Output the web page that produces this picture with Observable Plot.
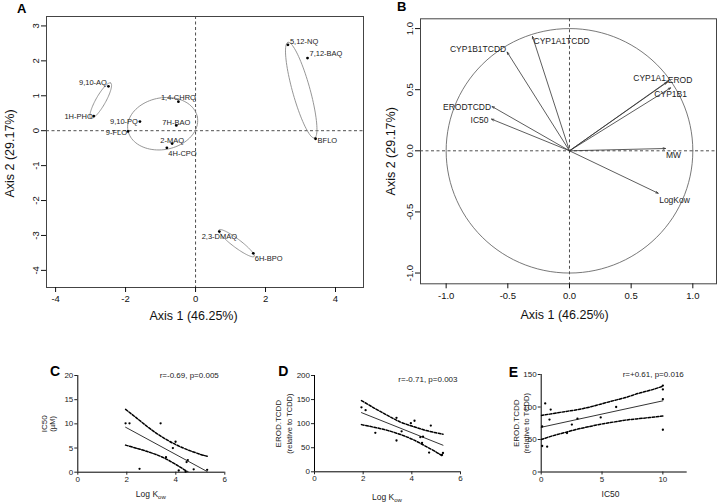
<!DOCTYPE html>
<html><head><meta charset="utf-8">
<script src="https://cdn.jsdelivr.net/npm/d3@7"></script>
<script src="https://cdn.jsdelivr.net/npm/@observablehq/plot@0.6"></script>
<style>
body{margin:0;background:#fff;}
#root{position:relative;width:720px;height:503px;overflow:hidden;background:#fff;font-family:"Liberation Sans",Arial,sans-serif;}
.panel{position:absolute;}
.panel svg{overflow:visible;}
.letter{position:absolute;font-weight:bold;transform:translate(-50%,-50%);line-height:1;color:#000;}
</style></head><body><div id="root"></div>
<script>
// ---------- DATA ----------
// Panel A: PCA scores of compounds
const pcaNames = ["5,12-NQ","7,12-BAQ","BFLO","9,10-AQ","1H-PHO","1,4-CHRQ","9,10-PQ","7H-BAO","9-FLO","2-MAQ","4H-CPO","2,3-DMAQ","6H-BPO"];
const pcaAxis1 = [2.64, 3.20, 3.43, -2.49, -2.91, -0.49, -1.59, -0.55, -1.93, -0.67, -0.82, 0.68, 1.65];
const pcaAxis2 = [2.46, 2.08, -0.23, 1.27, 0.42, 0.83, 0.26, 0.15, -0.02, -0.37, -0.49, -2.89, -3.51];
// group ellipses (centre, semi-axes, angle in degrees)
const ellipseCx = [-2.71, -0.94, 3.02, 1.17];
const ellipseCy = [0.86, 0.20, 1.16, -3.22];
const ellipseRx = [0.58, 1.01, 1.42, 0.63];
const ellipseRy = [0.14, 0.74, 0.25, 0.12];
const ellipseAngle = [60.6, 11, 105.5, -37];
const aTicksX = [-4, -2, 0, 2, 4];
const aTicksY = [-4, -3, -2, -1, 0, 1, 2, 3];

// Panel B: variable loadings (correlation circle)
const varNames = ["CYP1B1TCDD","CYP1A1TCDD","CYP1A1","EROD","CYP1B1","ERODTCDD","IC50","MW","LogKow"];
const varAxis1 = [-0.505, -0.30, 0.79, 0.805, 0.82, -0.627, -0.632, 0.778, 0.719];
const varAxis2 = [0.807, 0.935, 0.56, 0.575, 0.515, 0.362, 0.259, 0.019, -0.347];
const bTicks = [-1.0, -0.5, 0.0, 0.5, 1.0];

// Panel C: IC50 vs Log Kow
const cLogKow = [1.95, 2.11, 2.52, 3.38, 3.60, 3.88, 3.99, 4.12, 4.40, 4.44, 4.49, 4.73, 5.28];
const cIC50 = [10.1, 10.1, 0.7, 10.1, 3.1, 5.0, 6.3, 0.35, 0.1, 2.1, 2.5, 0.6, 0.5];
const cFitX = [1.95, 5.28], cFitY = [9.3, 0.14];
const cBandX = [1.95, 2.5, 3.0, 3.5, 4.0, 4.5, 5.0, 5.28];
const cUpper = [13.0, 10.8, 8.8, 7.1, 5.7, 4.6, 3.7, 3.3];
const cLower = [5.6, 4.8, 4.0, 3.0, 1.6, 0.0, -1.9, -3.0];

// Panel D: EROD.TCDD vs Log Kow
const dLogKow = [1.93, 2.10, 2.50, 3.37, 3.37, 3.58, 3.96, 4.11, 4.35, 4.42, 4.46, 4.71, 4.78, 5.24, 5.28];
const dEROD = [134, 128, 81, 112, 65, 84, 101, 106, 72, 60, 73, 40, 96, 35, 39];
const dFitX = [1.93, 5.28], dFitY = [122.9, 55.2];
const dBandX = [1.93, 2.5, 3.0, 3.5, 4.0, 4.5, 5.0, 5.28];
const dUpper = [148, 131, 117, 104, 95, 87, 81, 78];
const dLower = [98, 92, 86, 78, 68, 55, 41, 32];

// Panel E: EROD.TCDD vs IC50
const eIC50 = [0.08, 0.08, 0.33, 0.49, 0.68, 0.78, 2.12, 2.52, 2.98, 4.89, 6.16, 10, 10, 10, 10];
const eEROD = [70, 40, 105.5, 39, 80.7, 96, 60, 73, 82, 84, 100, 133, 127, 112, 65];
const eFitX = [0, 10], eFitY = [68.8, 109.5];
const eBandX = [0, 1, 2, 3, 4, 5, 6, 7, 8, 9, 10];
const eUpper = [87, 90, 93, 96, 100, 105, 110, 115, 121, 126, 132];
const eLower = [50, 56, 61, 66, 70, 74, 77, 80, 82, 84, 86];

// ---------- HELPERS ----------
const FONT = '"Liberation Sans", Arial, Helvetica, sans-serif';
const root = document.getElementById("root");
function place(el, left, top) {
  const w = document.createElement("div");
  w.className = "panel"; w.style.left = left + "px"; w.style.top = top + "px";
  w.appendChild(el); root.appendChild(w);
}
function letter(txt, cx, cy, size) {
  const d = document.createElement("div");
  d.className = "letter"; d.textContent = txt;
  d.style.left = cx + "px"; d.style.top = cy + "px"; d.style.fontSize = size + "px";
  root.appendChild(d);
}
// outline geometry of an ellipse (shape, not data)
function ellipsePoints(i) {
  const t = ellipseAngle[i] * Math.PI / 180, pts = [];
  for (let k = 0; k <= 90; k++) {
    const u = 2 * Math.PI * k / 90;
    const ex = ellipseRx[i] * Math.cos(u), ey = ellipseRy[i] * Math.sin(u);
    pts.push({g: i, x: ellipseCx[i] + ex * Math.cos(t) - ey * Math.sin(t), y: ellipseCy[i] + ex * Math.sin(t) + ey * Math.cos(t)});
  }
  return pts;
}
const fmt1 = d => d.toFixed(1);

// ---------- PANEL A ----------
const pcaData = pcaNames.map((name, i) => ({name, a1: pcaAxis1[i], a2: pcaAxis2[i]}));
const placeA = {
  "5,12-NQ": ["start", 2, -3.5], "7,12-BAQ": ["start", 2, -4.5], "BFLO": ["start", 2, 2],
  "9,10-AQ": ["end", -1.5, -4], "1H-PHO": ["end", -1, 1], "1,4-CHRQ": ["middle", 0, -4.5],
  "9,10-PQ": ["end", -2, 0], "7H-BAO": ["middle", 0, -3], "9-FLO": ["end", -1, 1],
  "2-MAQ": ["middle", 0, -3], "4H-CPO": ["start", 1.5, 5.5], "2,3-DMAQ": ["middle", 0, 4.5],
  "6H-BPO": ["start", 1.5, 5]
};
const ellPts = ellipseCx.flatMap((_, i) => ellipsePoints(i));
const dash = {stroke: "#222", strokeWidth: 0.8, strokeDasharray: "3,2.5"};
const plotA = Plot.plot({
  width: 366, height: 330, marginLeft: 46, marginRight: 3, marginTop: 16, marginBottom: 43,
  style: {fontFamily: FONT, fontSize: "9.5px", background: "transparent", overflow: "visible", color: "#111"},
  x: {domain: [-4.26, 4.8]},
  y: {domain: [-4.49, 3.27]},
  marks: [
    Plot.ruleX([0], dash),
    Plot.ruleY([0], dash),
    Plot.line(ellPts, {x: "x", y: "y", z: "g", stroke: "#8a8a8a", strokeWidth: 0.9}),
    Plot.dot(pcaData, {x: "a1", y: "a2", r: 1.4, fill: "#000", stroke: null}),
    ...pcaData.map(d => Plot.text([d], {x: "a1", y: "a2", text: "name", textAnchor: placeA[d.name][0], dx: placeA[d.name][1], dy: placeA[d.name][2], fontSize: 7.5, fill: "#222"})),
    Plot.frame({stroke: "#444", strokeWidth: 1}),
    Plot.axisX({ticks: aTicksX, tickFormat: d => String(d), tickSize: 5, tickPadding: 3, label: null}),
    Plot.axisY({ticks: aTicksY, tickFormat: d => String(d), tickSize: 5, tickPadding: 3, tickRotate: -90, label: null}),
    Plot.text(["Axis 1 (46.25%)"], {frameAnchor: "bottom", textAnchor: "middle", dx: -11.5, dy: 28, fontSize: 12.5, lineAnchor: "middle"}),
    Plot.text(["Axis 2 (29.17%)"], {frameAnchor: "left", textAnchor: "middle", rotate: -90, dx: -37, dy: 1.5, fontSize: 12.5, lineAnchor: "middle"})
  ]
});
place(plotA, 0, 0);

// ---------- PANEL B ----------
const varData = varNames.map((name, i) => ({name, a1: varAxis1[i], a2: varAxis2[i]}));
const placeB = {
  "CYP1B1TCDD": ["end", -1, -3], "CYP1A1TCDD": ["start", 1, 5], "CYP1A1": ["end", -1, -4.5],
  "EROD": ["start", -1, 0], "CYP1B1": ["middle", 0, 6.5], "ERODTCDD": ["end", -1, 0.5],
  "IC50": ["end", -3, 1], "MW": ["middle", 8, 7], "LogKow": ["start", 1, 7]
};
const unitCircle = d3.range(0, 361, 3).map(a => ({x: Math.cos(a * Math.PI / 180), y: Math.sin(a * Math.PI / 180)}));
const plotB = Plot.plot({
  width: 354, height: 330, marginLeft: 54, marginRight: 4, marginTop: 18.3, marginBottom: 46.7,
  style: {fontFamily: FONT, fontSize: "9.5px", background: "transparent", overflow: "visible", color: "#111"},
  x: {domain: [-1.208, 1.192]},
  y: {domain: [-1.088, 1.08]},
  marks: [
    Plot.ruleX([0], dash),
    Plot.ruleY([0], dash),
    Plot.line(unitCircle, {x: "x", y: "y", stroke: "#555", strokeWidth: 0.8}),
    Plot.arrow(varData, {x1: d => 0, y1: d => 0, x2: "a1", y2: "a2", stroke: "#333", strokeWidth: 0.8, headLength: 4.5, headAngle: 40}),
    ...varData.map(d => Plot.text([d], {x: "a1", y: "a2", text: "name", textAnchor: placeB[d.name][0], dx: placeB[d.name][1], dy: placeB[d.name][2], fontSize: 8.5, fill: "#222"})),
    Plot.frame({stroke: "#444", strokeWidth: 1}),
    Plot.axisX({ticks: bTicks, tickFormat: fmt1, tickSize: 5, tickPadding: 3, label: null}),
    Plot.axisY({ticks: bTicks, tickFormat: fmt1, tickSize: 5, tickPadding: 3, tickRotate: -90, label: null}),
    Plot.text(["Axis 1 (46.25%)"], {frameAnchor: "bottom", textAnchor: "middle", dx: -4, dy: 31.5, fontSize: 12.5, lineAnchor: "middle"}),
    Plot.text(["Axis 2 (29.17%)"], {frameAnchor: "left", textAnchor: "middle", rotate: -90, dx: -30, dy: 0, fontSize: 12.5, lineAnchor: "middle"})
  ]
});
place(plotB, 366, 0);

// ---------- PRISM-STYLE PANELS ----------
function prism(o) {
  const pts = o.xs.map((x, i) => ({x, y: o.ys[i]}));
  const fit = o.fitX.map((x, i) => ({x, y: o.fitY[i]}));
  const up = o.bandX.map((x, i) => ({x, y: o.upper[i]}));
  const lo = o.bandX.map((x, i) => ({x, y: o.lower[i]}));
  const W = 240, H = 163;
  const bandStyle = {x: "x", y: "y", stroke: "#000", strokeWidth: 1.5, strokeDasharray: "2.6,1.6", curve: "natural", clip: true};
  const svg = Plot.plot({
    width: W, height: H, marginLeft: o.ml, marginRight: o.mr, marginTop: o.mt, marginBottom: o.mb,
    style: {fontFamily: FONT, fontSize: "8px", background: "transparent", overflow: "visible", color: "#222"},
    x: {domain: o.xDomain}, y: {domain: o.yDomain},
    marks: [
      Plot.line(up, bandStyle),
      Plot.line(lo, bandStyle),
      Plot.line(fit, {x: "x", y: "y", stroke: "#000", strokeWidth: 0.8}),
      Plot.dot(pts, {x: "x", y: "y", r: 1.15, fill: "#000", stroke: null}),
      Plot.ruleX([o.xDomain[0]], {stroke: "#000", strokeWidth: 1}),
      Plot.ruleY([o.yDomain[0]], {stroke: "#000", strokeWidth: 1}),
      Plot.axisX({ticks: o.xTicks, tickSize: 3, tickPadding: 1, label: null, tickFormat: d => String(d)}),
      Plot.axisY({ticks: o.yTicks, tickSize: 3, tickPadding: 1.5, label: null, tickFormat: d => String(d)}),
      Plot.text([o.stat], {frameAnchor: "top-right", textAnchor: "end", dx: o.statDx, dy: o.statDy, fontSize: 8, lineAnchor: "middle", fill: "#222"}),
      Plot.text([o.ylab1], {frameAnchor: "left", textAnchor: "middle", rotate: -90, dx: o.ylab1Dx, fontSize: 8, lineAnchor: "middle", fill: "#222"}),
      Plot.text([o.ylab2], {frameAnchor: "left", textAnchor: "middle", rotate: -90, dx: o.ylab2Dx, fontSize: 7.5, lineAnchor: "middle", fill: "#222"}),
      ...(o.xlab ? [Plot.text([o.xlab], {frameAnchor: "bottom", textAnchor: "middle", dx: o.xlabDx || 0, dy: o.xlabDy, fontSize: 8.5, lineAnchor: "middle", fill: "#222"})] : [])
    ]
  });
  if (o.kow) {
    const cx = o.ml + (W - o.ml - o.mr) / 2 + (o.xlabDx || 0);
    const cy = H - o.mb + o.xlabDy + 3;
    const t = d3.select(svg).append("text").attr("x", cx).attr("y", cy).attr("text-anchor", "middle")
      .attr("font-size", 8.5).attr("fill", "#222").attr("font-family", FONT);
    t.append("tspan").text("Log K");
    t.append("tspan").attr("font-size", 6).attr("dy", 2).text("ow");
  }
  return svg;
}

place(prism({
  xs: cLogKow, ys: cIC50, fitX: cFitX, fitY: cFitY, bandX: cBandX, upper: cUpper, lower: cLower,
  ml: 77.3, mr: 15.7, mt: 35, mb: 31.3, xDomain: [0, 6], xTicks: [0, 2, 4, 6], yDomain: [0, 20], yTicks: [0, 5, 10, 15, 20],
  stat: "r=-0.69, p=0.005", statDx: -6, statDy: 0,
  ylab1: "IC50", ylab1Dx: -33.3, ylab2: "(µM)", ylab2Dx: -25.6,
  kow: true, xlabDy: 22.6
}), 0, 340);

place(prism({
  xs: dLogKow, ys: dEROD, fitX: dFitX, fitY: dFitY, bandX: dBandX, upper: dUpper, lower: dLower,
  ml: 74, mr: 20, mt: 35, mb: 31.7, xDomain: [0, 6], xTicks: [0, 2, 4, 6], yDomain: [0, 200], yTicks: [0, 50, 100, 150, 200],
  stat: "r=-0.71, p=0.003", statDx: -3, statDy: 3.7,
  ylab1: "EROD.TCDD", ylab1Dx: -36.3, ylab2: "(relative to TCDD)", ylab2Dx: -24.5,
  kow: true, xlabDy: 25.4
}), 240, 340);

place(prism({
  xs: eIC50, ys: eEROD, fitX: eFitX, fitY: eFitY, bandX: eBandX, upper: eUpper, lower: eLower,
  ml: 60.7, mr: 33.3, mt: 34, mb: 31.5, xDomain: [0, 12], xTicks: [0, 5, 10], yDomain: [0, 150], yTicks: [0, 50, 100, 150],
  stat: "r=+0.61, p=0.016", statDx: -3.4, statDy: 0,
  ylab1: "EROD.TCDD", ylab1Dx: -25, ylab2: "(relative to TCDD)", ylab2Dx: -14.7,
  xlab: "IC50", xlabDx: -3.7, xlabDy: 21.8
}), 480, 340);

// panel letters
letter("A", 21.7, 7.5, 13);
letter("B", 401.7, 6, 13);
letter("C", 55, 371, 14);
letter("D", 283.3, 371, 14);
letter("E", 513.3, 372.3, 14);
</script></body></html>
